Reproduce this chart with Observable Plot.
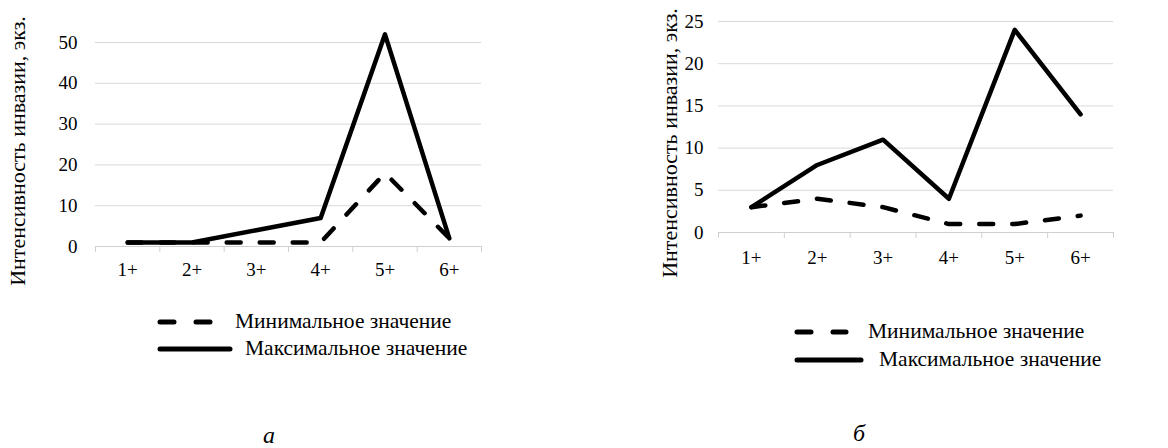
<!DOCTYPE html>
<html>
<head>
<meta charset="utf-8">
<script src="https://cdn.jsdelivr.net/npm/d3@7"></script>
<script src="https://cdn.jsdelivr.net/npm/@observablehq/plot@0.6"></script>
<style>
  html, body { margin: 0; padding: 0; background: #fff; }
  #wrap { position: relative; width: 1168px; height: 448px; font-family: "Liberation Serif", "DejaVu Serif", serif; color: #000; }
  .panel { position: absolute; top: 0; }
  .ylab { position: absolute; font-size: 22px; line-height: 1; white-space: nowrap; transform: translate(-50%, -50%) rotate(-90deg); }
  .leg { position: absolute; font-size: 21.5px; line-height: 1; white-space: nowrap; transform: translateY(-50%); }
  .sw { position: absolute; }
  .cap { position: absolute; font-size: 24px; line-height: 20px; height: 20px; font-style: italic; transform: translateX(-50%); }
</style>
</head>
<body>
<div id="wrap"></div>
<script>
// ---- data ----
const categories = ["1+", "2+", "3+", "4+", "5+", "6+"];
const minA = [1, 1, 1, 1, 18, 2];
const maxA = [1, 1, 4, 7, 52, 2];
const minB = [3, 4, 3, 1, 1, 2];
const maxB = [3, 8, 11, 4, 24, 14];
const ticksA = [0, 10, 20, 30, 40, 50];
const ticksB = [0, 5, 10, 15, 20, 25];
const yLabel = "Интенсивность инвазии, экз.";
const legendMin = "Минимальное значение";
const legendMax = "Максимальное значение";
const captions = ["а", "б"];

const FONT = '"Liberation Serif", "DejaVu Serif", serif';
const wrap = document.getElementById("wrap");

function rows(vals) { return vals.map((v, i) => ({i: i + 1, v, c: categories[i]})); }

function panel(opts) {
  const {left, minV, maxV, yTicks, mL, mR, mT, mB, tickPad, xPad} = opts;
  const W = 584, H = 300;
  const bounds = d3.range(categories.length + 1).map(k => k + 0.5);
  const svg = Plot.plot({
    width: W, height: H,
    marginLeft: mL, marginRight: mR, marginTop: mT, marginBottom: mB,
    style: {fontFamily: FONT, color: "#000", background: "transparent", overflow: "visible"},
    x: {type: "linear", domain: [0.5, categories.length + 0.5]},
    y: {domain: [0, d3.max(yTicks)]},
    marks: [
      Plot.gridY(yTicks.filter(t => t > 0), {stroke: "#d9d9d9", strokeOpacity: 1, strokeWidth: 1}),
      Plot.ruleY([0], {stroke: "#d0d0d0", strokeWidth: 1}),
      Plot.axisX(bounds, {tickSize: 6, tickFormat: () => "", stroke: "#d0d0d0", strokeOpacity: 1, tickPadding: 0, label: null}),
      Plot.axisX(d3.range(1, categories.length + 1), {tickSize: 0, tickPadding: xPad, fontSize: 19, fontFamily: FONT, tickFormat: d => categories[d - 1], label: null}),
      Plot.axisY(yTicks, {tickSize: 0, tickPadding: tickPad, fontSize: 19, fontFamily: FONT, label: null}),
      Plot.line(rows(minV), {x: "i", y: "v", stroke: "#000", strokeWidth: 4.5, strokeDasharray: "14,19", strokeLinecap: "round", strokeLinejoin: "round"}),
      Plot.line(rows(maxV), {x: "i", y: "v", stroke: "#000", strokeWidth: 4.5, strokeLinecap: "round", strokeLinejoin: "round"})
    ]
  });
  const div = document.createElement("div");
  div.className = "panel";
  div.style.left = left + "px";
  div.appendChild(svg);
  wrap.appendChild(div);
}

panel({left: 0, minV: minA, maxV: maxA, yTicks: ticksA, mL: 95, mR: 103, mT: 42, mB: 54, tickPad: 18, xPad: 16});
panel({left: 584, minV: minB, maxV: maxB, yTicks: ticksB, mL: 134, mR: 55, mT: 21, mB: 68, tickPad: 15, xPad: 18});

function add(cls, text, x, y) {
  const d = document.createElement("div");
  d.className = cls; d.textContent = text;
  d.style.left = x + "px"; d.style.top = y + "px";
  wrap.appendChild(d); return d;
}
function swatch(x1, x2, y, dashed) {
  const s = d3.create("svg").attr("class", "sw").attr("width", x2 - x1 + 8).attr("height", 10)
    .style("left", (x1 - 4) + "px").style("top", (y - 5) + "px");
  s.append("line").attr("x1", 4).attr("x2", x2 - x1 + 4).attr("y1", 5).attr("y2", 5)
    .attr("stroke", "#000").attr("stroke-width", 5).attr("stroke-linecap", "round")
    .attr("stroke-dasharray", dashed ? "14,22" : null);
  wrap.appendChild(s.node());
}

add("ylab", yLabel, 18, 151);
add("ylab", yLabel, 670, 143);

swatch(160, 213, 322, true); add("leg", legendMin, 235, 322);
swatch(160, 230, 349, false); add("leg", legendMax, 245, 349);
swatch(797, 846, 332, true); add("leg", legendMin, 868, 332);
swatch(797, 861, 360, false); add("leg", legendMax, 879, 360);

add("cap", captions[0], 269, 425);
add("cap", captions[1], 859, 423);
</script>
</body>
</html>
